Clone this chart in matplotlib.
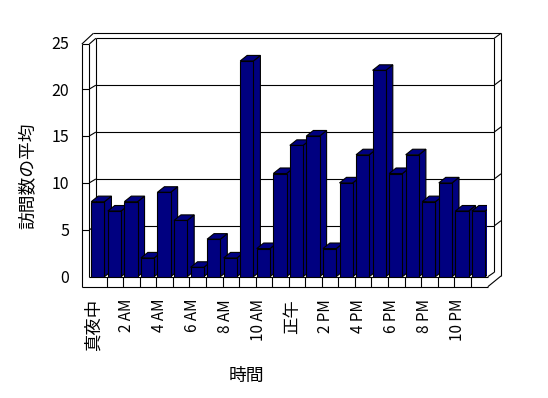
import numpy as np
import matplotlib
matplotlib.use("Agg")
import matplotlib.pyplot as plt
from matplotlib.patches import Polygon

plt.rcParams['font.family'] = ['Noto Sans CJK JP', 'DejaVu Sans']

# data
hours = list(range(24))
visits = [8, 7, 8, 2, 9, 6, 1, 4, 2, 23, 3, 11, 14, 15, 3, 10, 13, 22, 11, 13, 8, 10, 7, 7]
tick_labels = ['真夜中', '2 AM', '4 AM', '6 AM', '8 AM', '10 AM',
               '正午', '2 PM', '4 PM', '6 PM', '8 PM', '10 PM']
y_ticks = [0, 5, 10, 15, 20, 25]

navy = '#000080'
lw = 0.8

fig = plt.figure(figsize=(5.48, 3.98), dpi=100)
# axes placed so that the front plane of the 3d box matches the picture
ax = fig.add_axes([90.1 / 548, 121.3 / 398, 397.2 / 548, 234.5 / 398])
ax.set_xlim(0, 24)
ax.set_ylim(0, 25)
for s in ax.spines.values():
    s.set_visible(False)

# depth offsets (data units) for walls and bars
wdx, wdy = 0.40, 0.42
bdx, bdy = 0.42, 0.59
n = len(visits)


def line(xs, ys, z=1):
    ax.plot(xs, ys, color='black', lw=lw, clip_on=False, zorder=z,
            solid_capstyle='butt')


# box frame (walls and floor slabs)
lx0, lx1 = -0.5, -0.05          # left wall front face
fy0 = -1.07                      # floor front face bottom
top_out = 25.95
rx_in, rx_out = n + 0.42, n + 0.83
line([lx0, lx0], [fy0, 24.8])
line([lx0, lx0 + 0.7], [24.8, top_out])
line([lx0 + 0.7, rx_out], [top_out, top_out])
line([rx_out, rx_out], [top_out, 0.08])
line([rx_out, n + 0.03], [0.08, fy0])
line([n + 0.03, lx0], [fy0, fy0])
line([lx1, lx1], [0, 24.8])
line([lx0, lx1], [24.8, 24.8])
line([lx1, lx1 + wdx], [24.8, 25 + wdy])
line([lx1 + wdx, rx_in], [25 + wdy, 25 + wdy])
line([rx_in, rx_out], [25 + wdy, top_out])
line([rx_in, rx_in], [25 + wdy, wdy + 0.05])
line([lx1 + wdx, lx1 + wdx], [25 + wdy, wdy])
line([lx1, n + 0.03], [0, 0])
line([n + 0.03, rx_in], [0, wdy + 0.05])
for b in range(1, n):
    line([b, b], [0, fy0])

# grid lines on the back wall with ticks on the side walls
for v in y_ticks[1:-1]:
    line([lx1 + wdx, rx_in], [v + wdy, v + wdy])
    line([lx0, lx1], [v, v])
    line([lx1, lx1 + wdx], [v, v + wdy])
    line([rx_in, rx_out], [v + wdy, v + wdy + 0.55])

# bars: front faces from ax.bar, side and top faces as polygons
x0 = np.array(hours) + 0.07
w = 0.8
bars = ax.bar(x0, visits, width=w, align='edge', color=navy,
              edgecolor='black', linewidth=lw)
for i, (x, v) in enumerate(zip(x0, visits)):
    z = 3 + i * 0.01
    side = Polygon([(x + w, 0), (x + w + bdx, bdy), (x + w + bdx, v + bdy), (x + w, v)],
                   closed=True, facecolor=navy, edgecolor='black', lw=lw, zorder=z)
    top = Polygon([(x, v), (x + bdx, v + bdy), (x + w + bdx, v + bdy), (x + w, v)],
                  closed=True, facecolor=navy, edgecolor='black', lw=lw, zorder=z)
    ax.add_patch(side)
    ax.add_patch(top)
    bars[i].set_zorder(z + 0.005)

ax.set_yticks(y_ticks)
ax.set_yticklabels([str(t) for t in y_ticks], fontsize=11.5)
ax.set_xticks(np.arange(0, 24, 2) + 0.2)
ax.set_xticklabels(tick_labels, rotation=90, fontsize=11)
for t in ax.get_xticklabels():
    if not t.get_text()[0].isdigit():
        t.set_fontsize(12.5)
ax.tick_params(axis='y', length=0, pad=15)
ax.tick_params(axis='x', length=0, pad=16)

fig.text(28 / 548, 1 - 175.7 / 398, '訪問数の平均', rotation=90,
         ha='center', va='center', fontsize=12.8)
fig.text(246.7 / 548, 1 - 375.5 / 398, '時間', ha='center', va='center',
         fontsize=12.8)

fig.savefig('out.png', dpi=100)
